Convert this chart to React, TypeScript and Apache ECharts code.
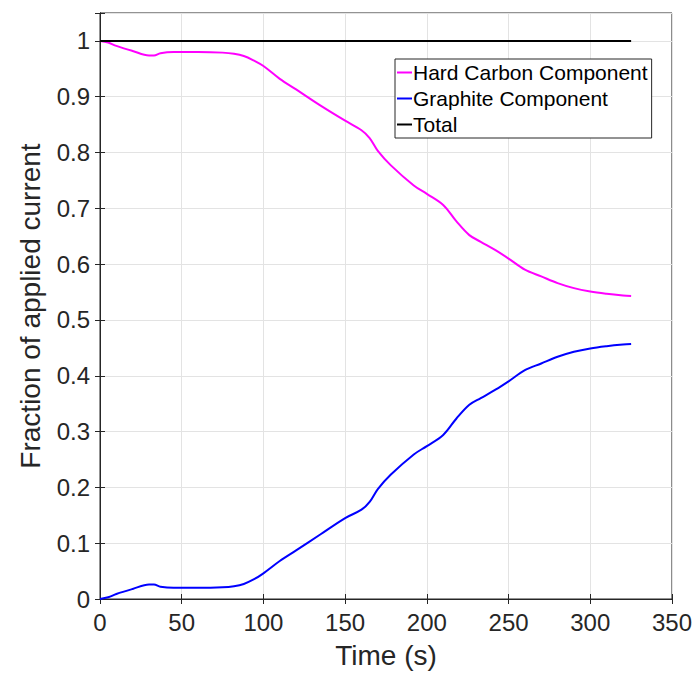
import React, { useEffect, useRef } from "react";
import * as echarts from "echarts";

const time = [0, 5, 10, 20, 30, 33, 37, 45, 60, 75, 82, 88, 94, 100, 110, 120, 135, 150, 160, 165, 170, 178, 192, 200, 210, 218, 226, 233, 242, 250, 260, 270, 280, 290, 300, 310, 320, 325];
const hardCarbon = [1.0, 0.997, 0.991, 0.982, 0.974, 0.974, 0.978, 0.98, 0.98, 0.979, 0.977, 0.973, 0.965, 0.955, 0.932, 0.913, 0.884, 0.857, 0.84, 0.826, 0.803, 0.777, 0.741, 0.726, 0.706, 0.677, 0.652, 0.64, 0.625, 0.61, 0.59, 0.578, 0.566, 0.557, 0.551, 0.547, 0.544, 0.543];
const graphite = [0.0, 0.003, 0.009, 0.018, 0.026, 0.026, 0.022, 0.02, 0.02, 0.021, 0.023, 0.027, 0.035, 0.046, 0.068, 0.087, 0.116, 0.145, 0.16, 0.174, 0.197, 0.223, 0.259, 0.274, 0.294, 0.323, 0.348, 0.36, 0.375, 0.39, 0.41, 0.422, 0.434, 0.443, 0.449, 0.453, 0.456, 0.457];
const totalTime = [0, 325];
const total = [1, 1];
const seriesNames = ["Hard Carbon Component", "Graphite Component", "Total"];

const FONT = "Liberation Sans, Arial, Helvetica, sans-serif";
const AXIS = "#262626";

export default function App() {
  const ref = useRef<HTMLDivElement>(null);
  useEffect(() => {
    if (!ref.current) return;
    const chart = echarts.init(ref.current, undefined, { renderer: "svg" });
    const pair = (xs: number[], ys: number[]) => xs.map((x, i) => [x, ys[i]]);
    const tickFmt = (v: number) => (v > 1.001 ? "" : String(Math.round(v * 10) / 10));
    chart.setOption({
      animation: false,
      textStyle: { fontFamily: FONT },
      grid: { left: 100, right: 23, top: 13, bottom: 71, show: true, borderColor: AXIS, borderWidth: 1 },
      legend: {
        orient: "vertical",
        left: 395,
        top: 59,
        data: seriesNames,
        icon: "rect",
        itemWidth: 15,
        itemHeight: 2,
        itemGap: 5,
        padding: [3, 4, 3, 2],
        borderColor: AXIS,
        borderWidth: 1,
        backgroundColor: "#fff",
        textStyle: { fontSize: 21, color: "#000", fontFamily: FONT, padding: [0, 0, 0, -4] },
      },
      xAxis: [
        {
          type: "value", min: 0, max: 350, interval: 50,
          name: "Time (s)", nameLocation: "middle", nameGap: 42,
          nameTextStyle: { fontSize: 28, color: AXIS, fontFamily: FONT },
          axisLine: { show: true, lineStyle: { color: AXIS } },
          axisTick: { show: true, inside: true, length: 5, lineStyle: { color: AXIS } },
          axisLabel: { fontSize: 24, color: AXIS, margin: 11, fontFamily: FONT },
          splitLine: { show: true, lineStyle: { color: "#e3e3e3" } },
        },
        {
          type: "value", position: "top", min: 0, max: 350, interval: 50,
          axisLine: { show: true, lineStyle: { color: AXIS } },
          axisTick: { show: true, inside: true, length: 5, lineStyle: { color: AXIS } },
          axisLabel: { show: false }, splitLine: { show: false },
        },
      ],
      yAxis: [
        {
          type: "value", min: 0, max: 1.05, interval: 0.1,
          name: "Fraction of applied current", nameLocation: "middle", nameGap: 56,
          nameTextStyle: { fontSize: 28, color: AXIS, fontFamily: FONT },
          axisLine: { show: true, lineStyle: { color: AXIS } },
          axisTick: { show: true, inside: true, length: 5, lineStyle: { color: AXIS } },
          axisLabel: { fontSize: 24, color: AXIS, margin: 10, fontFamily: FONT, formatter: tickFmt },
          splitLine: { show: true, lineStyle: { color: "#e3e3e3" } },
        },
        {
          type: "value", position: "right", min: 0, max: 1.05, interval: 0.1,
          axisLine: { show: true, lineStyle: { color: AXIS } },
          axisTick: { show: true, inside: true, length: 5, lineStyle: { color: AXIS } },
          axisLabel: { show: false }, splitLine: { show: false },
        },
      ],
      series: [
        {
          name: seriesNames[0], type: "line", data: pair(time, hardCarbon), smooth: 0.35,
          showSymbol: false, symbol: "none", lineStyle: { color: "#ff00ff", width: 2 }, itemStyle: { color: "#ff00ff" },
        },
        {
          name: seriesNames[1], type: "line", data: pair(time, graphite), smooth: 0.35,
          showSymbol: false, symbol: "none", lineStyle: { color: "#0000ff", width: 2 }, itemStyle: { color: "#0000ff" },
        },
        {
          name: seriesNames[2], type: "line", data: pair(totalTime, total),
          showSymbol: false, symbol: "none", lineStyle: { color: "#000000", width: 2 }, itemStyle: { color: "#000000" },
        },
      ],
    });
    return () => chart.dispose();
  }, []);
  return <div ref={ref} style={{ position: "fixed", left: 0, top: 0, width: 695, height: 674, background: "#fff" }} />;
}
